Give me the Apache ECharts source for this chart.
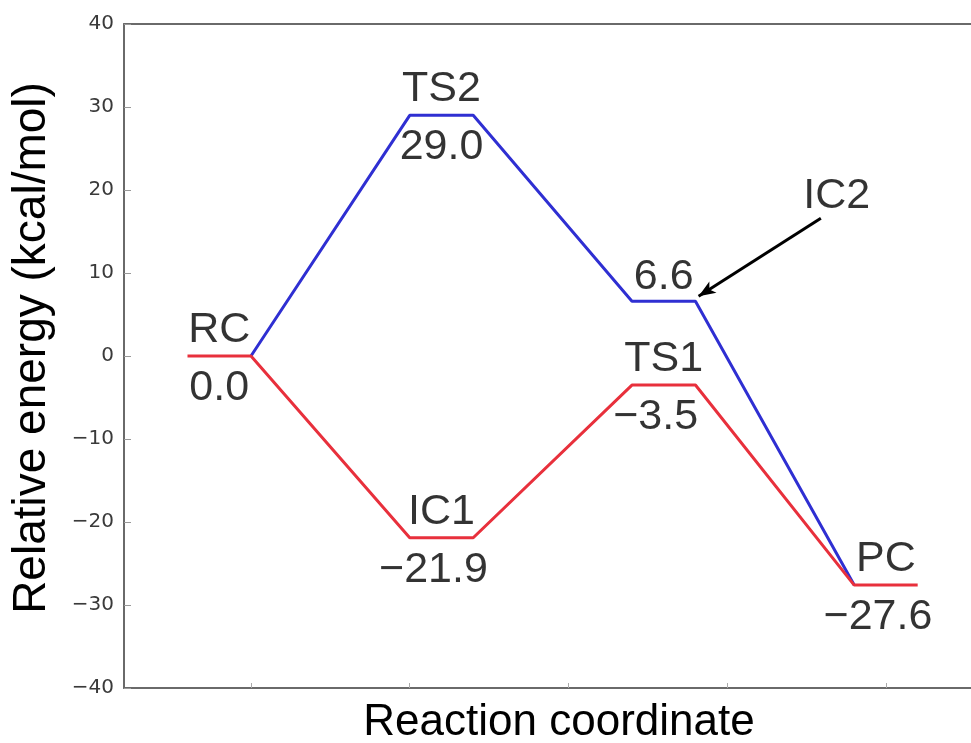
<!DOCTYPE html>
<html>
<head>
<meta charset="utf-8">
<script src="https://cdn.jsdelivr.net/npm/echarts@6/dist/echarts.min.js"></script>
<style>
  html, body { margin: 0; padding: 0; background: #fff; }
  #chart { width: 971px; height: 743px; }
</style>
</head>
<body>
<div id="chart"></div>
<script>
// energy profile data (kcal/mol)
const redStates = ['RC', 'IC1', 'TS1', 'PC'];
const redEnergy = [0.0, -21.9, -3.5, -27.6];
const blueStates = ['RC', 'TS2', 'IC2', 'PC'];
const blueEnergy = [0.0, 29.0, 6.6, -27.6];
// reaction coordinate where each plateau starts, and its length
const levelStart = [-0.4, 1.0, 2.4, 3.8];
const levelWidth = 0.4;
const yTicks = [-40, -30, -20, -10, 0, 10, 20, 30, 40];
const xTicks = [0, 1, 2, 3, 4];

const RED = '#e8303c';
const BLUE = '#2f2fd2';
const FONT = '"Liberation Sans", Arial, sans-serif';

function fmt (v) {
  return v.toFixed(1).replace('-', '\u2212');
}

// red path: every plateau complete
const redPath = [];
redEnergy.forEach((e, i) => {
  redPath.push([levelStart[i], e], [levelStart[i] + levelWidth, e]);
});

// blue path: leaves RC at its right end, joins PC at its left end
const bluePath = [];
blueEnergy.forEach((e, i) => {
  if (i > 0) bluePath.push([levelStart[i], e]);
  if (i < blueEnergy.length - 1) bluePath.push([levelStart[i] + levelWidth, e]);
});

// one label entry per distinct state
const levels = [];
[[redStates, redEnergy], [blueStates, blueEnergy]].forEach(([names, vals]) => {
  names.forEach((n, i) => {
    if (!levels.find(l => l.name === n)) {
      levels.push({ name: n, x: levelStart[i] + levelWidth / 2, e: vals[i] });
    }
  });
});

const arrowNamed = ['IC2'];   // these get a pointer instead of a caption
const valueAbove = ['IC2'];

const chart = echarts.init(document.getElementById('chart'));

const labelText = { fontFamily: FONT, fontSize: 43, color: '#000', lineHeight: 44 };
const spine = { show: true, onZero: false, lineStyle: { color: '#6a6a6a', width: 2 } };

chart.setOption({
  animation: false,
  backgroundColor: '#fff',
  grid: { left: 124, right: -7, top: 24, bottom: 55, outerBoundsMode: 'none', containLabel: false },
  xAxis: [{
    type: 'value',
    min: -0.8,
    max: 4.58,
    name: 'Reaction coordinate',
    nameLocation: 'middle',
    nameGap: 13,
    nameTextStyle: { fontFamily: FONT, fontSize: 44, color: '#000', padding: [0, 0, 0, 16] },
    axisLine: spine,
    axisTick: { show: true, inside: true, length: 5, customValues: xTicks, lineStyle: { color: '#aaa' } },
    axisLabel: { show: false },
    splitLine: { show: false }
  }, {
    type: 'value',
    position: 'top',
    min: -0.8,
    max: 4.58,
    axisLine: spine,
    axisTick: { show: false },
    axisLabel: { show: false },
    splitLine: { show: false }
  }],
  yAxis: [{
    type: 'value',
    min: -40,
    max: 40,
    interval: 10,
    name: 'Relative energy (kcal/mol)',
    nameLocation: 'middle',
    nameGap: 69,
    nameTextStyle: { fontFamily: FONT, fontSize: 46, color: '#000', padding: [0, 0, 0, 16] },
    axisLine: spine,
    axisTick: { show: true, inside: true, length: 7, lineStyle: { color: '#999' } },
    axisLabel: {
      fontFamily: '"DejaVu Sans", sans-serif',
      fontSize: 20,
      color: '#3a3a3a',
      margin: 10,
      formatter: v => (yTicks.includes(v) ? String(v).replace('-', '\u2212') : '')
    },
    splitLine: { show: false }
  }, {
    type: 'value',
    position: 'right',
    min: -40,
    max: 40,
    interval: 10,
    axisLine: spine,
    axisTick: { show: true, inside: true, length: 7, lineStyle: { color: '#999' } },
    axisLabel: { show: false },
    splitLine: { show: false }
  }],
  series: [
    {
      name: 'path B',
      type: 'line',
      data: bluePath,
      symbol: 'none',
      silent: true,
      z: 2,
      lineStyle: { color: BLUE, width: 3 },
      markLine: {
        silent: true,
        symbol: ['none', 'arrow'],
        symbolSize: [10, 17],
        lineStyle: { color: '#000', width: 3, type: 'solid' },
        label: { show: false },
        data: [[{ coord: [3.59, 16.6] }, { coord: [2.82, 7.2] }]]
      }
    },
    {
      name: 'path A',
      type: 'line',
      data: redPath,
      symbol: 'none',
      silent: true,
      z: 3,
      lineStyle: { color: RED, width: 3 }
    },
    {
      // state names above the plateaus
      type: 'scatter',
      symbolSize: 0,
      silent: true,
      z: 5,
      data: levels.filter(l => !arrowNamed.includes(l.name)).map(l => ({ value: [l.x, l.e], name: l.name })),
      label: { show: true, position: 'top', distance: 4, formatter: p => p.name, ...labelText }
    },
    {
      // energies under (or over) the plateaus
      type: 'scatter',
      symbolSize: 0,
      silent: true,
      z: 5,
      data: levels.map(l => ({
        value: [l.x, l.e],
        name: fmt(l.e),
        label: valueAbove.includes(l.name)
          ? { position: 'top', distance: 2 }
          : { position: 'bottom', distance: 10, padding: l.e < 0 ? [0, 16, 0, 0] : 0 }
      })),
      label: { show: true, formatter: p => p.name, ...labelText }
    },
    {
      // pointer caption
      type: 'scatter',
      symbolSize: 0,
      silent: true,
      z: 5,
      data: [{ value: [3.69, 19.2], name: 'IC2' }],
      label: { show: true, position: 'inside', formatter: p => p.name, ...labelText }
    }
  ]
});
</script>
</body>
</html>
